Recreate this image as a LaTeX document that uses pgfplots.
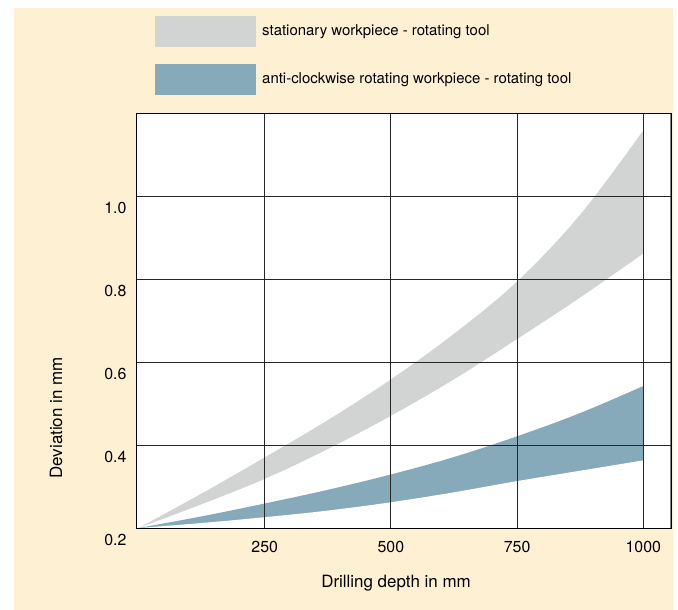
\documentclass[border=0pt]{standalone}
\usepackage{fontspec}
\setmainfont{TeX Gyre Heros}
\usepackage{pgfplots}
\pgfplotsset{compat=1.18}
\definecolor{cream}{HTML}{FEF0D2}
\definecolor{bandgray}{HTML}{D2D3D3}
\definecolor{bandblue}{HTML}{87AABA}
\begin{document}
\begin{tikzpicture}[x=1bp,y=1bp]
\path[fill=white] (0,0) rectangle (678,610);
\fill[cream] (14,0) rectangle (673,602);
\fill[bandgray] (155,563) rectangle (256,594);
\fill[bandblue] (155,515) rectangle (256,546);
\node[anchor=west,inner sep=0pt,font=\fontsize{15}{18}\selectfont] at (262,578.5) {stationary workpiece - rotating tool};
\node[anchor=west,inner sep=0pt,font=\fontsize{15}{18}\selectfont] at (262,530.5) {anti-clockwise rotating workpiece - rotating tool};
\node[rotate=90,inner sep=0pt,font=\fontsize{17}{20}\selectfont] at (56,192) {Deviation in mm};
\node[inner sep=0pt,font=\fontsize{17}{20}\selectfont] at (396,27) {Drilling depth in mm};
\begin{axis}[
  at={(136bp,82bp)}, anchor=south west,
  scale only axis, width=535bp, height=415bp,
  xmin=-5, xmax=1055, ymin=0.2, ymax=1.2,
  xtick={250,500,750,1000}, xticklabels={250,500,750,1000},
  ytick={0.2,0.4,0.6,0.8,1.0}, yticklabels={0.2,0.4,0.6,0.8,1.0},
  grid=major, major grid style={black!85, line width=0.8bp},
  major tick length=0pt,
  axis background/.style={fill=white},
  axis line style={black, line width=0.9bp},
  tick label style={font=\fontsize{16}{19}\selectfont},
  yticklabel style={yshift=-12bp, xshift=-6bp},
  xticklabel style={yshift=-10bp},
  axis on top,
]
% gray band: area under upper edge, then white under lower edge
\addplot[fill=bandgray, draw=none, smooth, tension=0.6] coordinates {(0,0.2) (125,0.283) (250,0.370) (375,0.460) (500,0.558) (625,0.668) (750,0.794) (875,0.955) (1000,1.158)} \closedcycle;
\addplot[fill=white, draw=none, smooth, tension=0.6] coordinates {(0,0.2) (125,0.257) (250,0.318) (375,0.390) (500,0.470) (625,0.558) (750,0.655) (875,0.755) (1000,0.861)} \closedcycle;
% blue band
\addplot[fill=bandblue, draw=none, smooth, tension=0.6] coordinates {(0,0.2) (125,0.228) (250,0.259) (375,0.292) (500,0.329) (625,0.371) (750,0.421) (875,0.477) (1000,0.542)} \closedcycle;
\addplot[fill=white, draw=none, smooth, tension=0.6] coordinates {(0,0.2) (125,0.212) (250,0.226) (375,0.242) (500,0.262) (625,0.286) (750,0.313) (875,0.338) (1000,0.363)} \closedcycle;
\draw[black!50, line width=1.5bp] (rel axis cs:1,0) -- (rel axis cs:1,1);
\end{axis}
\end{tikzpicture}
\end{document}
